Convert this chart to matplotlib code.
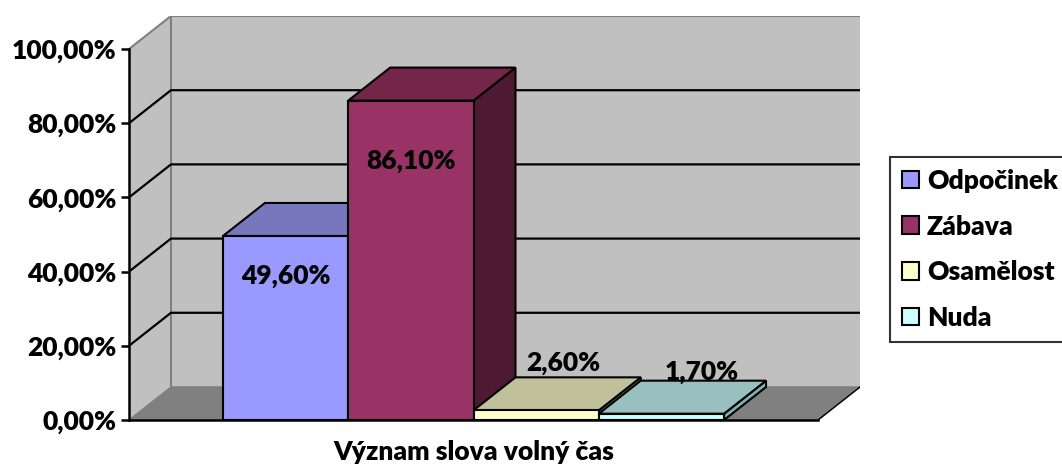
import matplotlib.pyplot as plt
from matplotlib.patches import Patch
from matplotlib.ticker import FuncFormatter

# ---------------------------
# Data
# ---------------------------
categories = ["Odpočinek", "Zábava", "Osamělost", "Nuda"]
values = [49.6, 86.1, 2.6, 1.7]
value_labels = ["49,60%", "86,10%", "2,60%", "1,70%"]
y_ticks = [0, 20, 40, 60, 80, 100]
axis_title = "Význam slova volný čas"

# ---------------------------
# Styles (Excel 3D column look)
# ---------------------------
front_colors = ["#9999FF", "#993366", "#FFFFCC", "#CCFFFF"]
top_colors = ["#7777BE", "#732649", "#C0C09A", "#99C0C0"]
side_colors = ["#5C5C99", "#4D1933", "#99997A", "#7AB3B3"]
wall_color = "#C0C0C0"
floor_color = "#808080"
FONT = "Lato"
FW = "heavy"
FS = 19

# 3D geometry in data units
gap = 0.75          # empty space left/right of the cluster
W = len(values) + 2 * gap
DX, DY = 0.335, 8.9  # depth offset of the back wall

fig = plt.figure(figsize=(10.62, 4.68), dpi=100)
ax = fig.add_axes([129 / 1062, 48 / 468, (860 - 129) / 1062, (452 - 48) / 468])
ax.set_xlim(0, W + DX)
ax.set_ylim(0, 100 + DY)
ax.patch.set_visible(False)

# walls and floor
ax.fill([DX, W + DX, W + DX, DX], [DY, DY, 100 + DY, 100 + DY],
        color=wall_color, zorder=1)
ax.fill([0, DX, DX, 0], [0, DY, 100 + DY, 100], color=wall_color, zorder=1)
ax.fill([0, W, W + DX, DX], [0, 0, DY, DY], color=floor_color, zorder=1)
ax.plot([0, DX, W + DX], [100, 100 + DY, 100 + DY], color="#808080", lw=1.5, zorder=2)
ax.plot([DX, DX], [DY, 100 + DY], color="#808080", lw=1.5, zorder=2)
ax.plot([DX, W + DX], [DY, DY], color="#808080", lw=1.0, zorder=2)
ax.plot([W, W + DX], [0, DY], color="black", lw=1.0, zorder=2)

# gridlines on side and back wall
for v in y_ticks[1:-1]:
    ax.plot([0, DX, W + DX], [v, v + DY, v + DY], color="black", lw=1.6, zorder=2)

# bars: side, top, front (left to right so the next front hides the side)
label_dx = [0, 0, 0.22, 0.32]
label_dy = [-10.9, -16.2, 12.7, 11.2]
for i, v in enumerate(values):
    x0 = gap + i
    x1 = x0 + 1
    z = 3 + i
    ax.fill([x1, x1 + DX, x1 + DX, x1], [0, DY, v + DY, v],
            facecolor=side_colors[i], edgecolor="black", lw=1.5, zorder=z)
    ax.fill([x0, x1, x1 + DX, x0 + DX], [v, v, v + DY, v + DY],
            facecolor=top_colors[i], edgecolor="black", lw=1.5, zorder=z)
    ax.fill([x0, x1, x1, x0], [0, 0, v, v],
            facecolor=front_colors[i], edgecolor="black", lw=1.5, zorder=z)
    ax.text(x0 + 0.5 + label_dx[i], v + label_dy[i], value_labels[i],
            ha="center", va="center", fontsize=FS, fontweight=FW,
            family=FONT, zorder=10)

# axes
for s in ["top", "right"]:
    ax.spines[s].set_visible(False)
ax.spines["left"].set_bounds(0, 100)
ax.spines["bottom"].set_bounds(0, W)
ax.spines["left"].set_linewidth(1.8)
ax.spines["bottom"].set_linewidth(1.8)
ax.spines["left"].set_zorder(12)
ax.spines["bottom"].set_zorder(12)
ax.set_xticks([])
ax.set_yticks(y_ticks)
ax.yaxis.set_major_formatter(FuncFormatter(lambda v, p: f"{v:.2f}%".replace(".", ",")))
ax.tick_params(axis="y", length=6, width=1.8, pad=3)
for t in ax.get_yticklabels():
    t.set_fontsize(FS)
    t.set_fontweight(FW)
    t.set_family(FONT)

ax.text(W / 2, -8.6, axis_title, ha="center", va="center", fontsize=FS,
        fontweight=FW, family=FONT)

# legend
handles = [Patch(facecolor=c, edgecolor="black", lw=1.5) for c in front_colors]
leg = fig.legend(handles, categories, loc="upper left",
                 bbox_to_anchor=(890 / 1062, (468 - 157) / 468),
                 prop={"family": FONT, "weight": FW, "size": FS},
                 frameon=True, fancybox=False, handlelength=0.65, handleheight=0.65,
                 handletextpad=0.3, labelspacing=0.82, borderpad=0.45,
                 borderaxespad=0)
leg.get_frame().set_edgecolor("black")
leg.get_frame().set_linewidth(1.5)

fig.savefig("out.png", dpi=100)
